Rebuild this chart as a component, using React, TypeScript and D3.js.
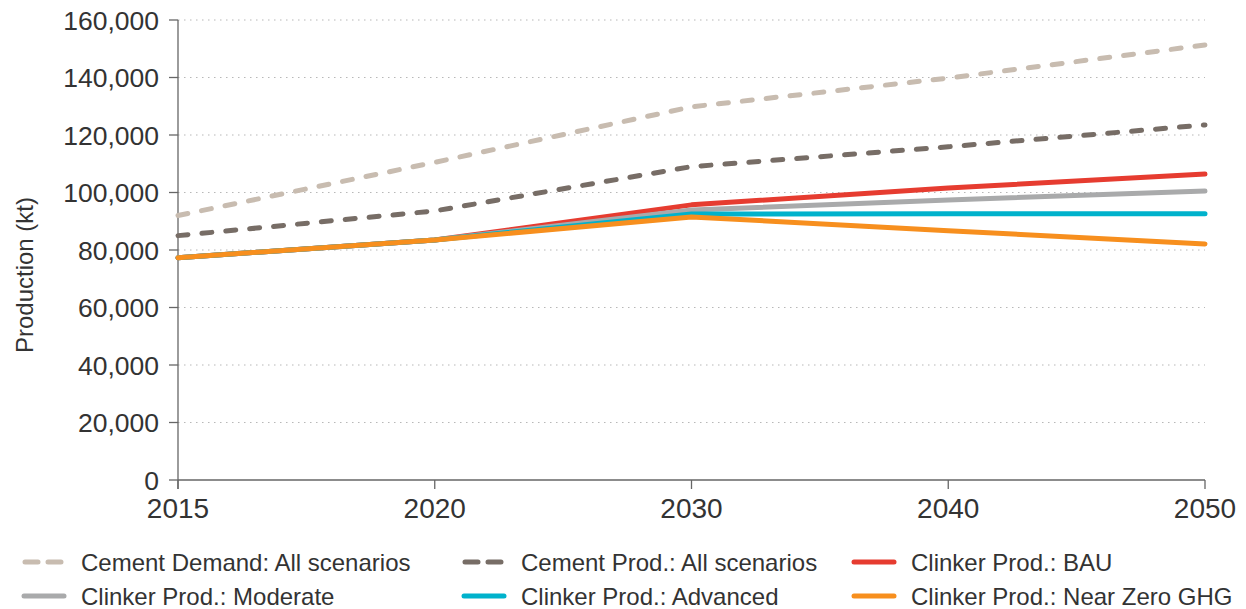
import React from "react";
import * as d3 from "d3";

const years = ["2015", "2020", "2030", "2040", "2050"];
const yTicks = [0, 20000, 40000, 60000, 80000, 100000, 120000, 140000, 160000];

const cementDemand = [92000, 110500, 129800, 139800, 151300];
const cementProd = [85000, 93600, 109000, 115900, 123500];
const clinkerBAU = [77300, 83500, 95700, 101600, 106400];
const clinkerModerate = [77300, 83500, 93900, 97400, 100500];
const clinkerAdvanced = [77300, 83500, 92500, 92600, 92600];
const clinkerNearZero = [77300, 83500, 91500, 86700, 82100];

const seriesNames = [
  "Cement Demand: All scenarios",
  "Cement Prod.: All scenarios",
  "Clinker Prod.: BAU",
  "Clinker Prod.: Moderate",
  "Clinker Prod.: Advanced",
  "Clinker Prod.: Near Zero GHG",
];
const seriesValues = [cementDemand, cementProd, clinkerBAU, clinkerModerate, clinkerAdvanced, clinkerNearZero];
const seriesColors = ["#c8bcb0", "#776d66", "#e63c30", "#a9aaab", "#00b2cc", "#f78f1e"];
const seriesDashed = [true, true, false, false, false, false];

const W = 1246;
const H = 609;
const margin = { left: 178, right: 41, top: 20, bottom: 129 };

export default function App() {
  const x = d3.scalePoint<string>().domain(years).range([margin.left, W - margin.right]);
  const y = d3.scaleLinear().domain([0, 160000]).range([H - margin.bottom, margin.top]);
  const line = d3
    .line<number>()
    .x((_, i) => x(years[i]) as number)
    .y((d) => y(d));
  const fmt = d3.format(",");
  const x0 = margin.left;
  const x1 = W - margin.right;
  const y0 = y(0);

  const legendCols = [22, 462, 852];
  const legendRows = [562, 596];

  // draw order: dashed first, then BAU, Moderate, Advanced, Near Zero
  const order = [0, 1, 2, 3, 4, 5];

  return (
    <svg width={W} height={H} style={{ position: "absolute", left: 0, top: 0, background: "#fff" }} fontFamily="'Liberation Sans', Arial, sans-serif">
      {/* grid */}
      {yTicks.filter((t) => t > 0).map((t) => (
        <line key={"g" + t} x1={x0} x2={x1} y1={y(t)} y2={y(t)} stroke="#b8b8b8" strokeWidth={1.2} strokeDasharray="1.5 4.5" />
      ))}
      {/* y axis */}
      <line x1={x0} x2={x0} y1={margin.top} y2={y0 + 9} stroke="#666" strokeWidth={1.3} />
      {yTicks.map((t) => (
        <g key={"y" + t}>
          <line x1={x0 - 9} x2={x0} y1={y(t)} y2={y(t)} stroke="#666" strokeWidth={1.3} />
          <text x={x0 - 19} y={y(t)} dy="0.36em" textAnchor="end" fontSize={26.5} fill="#333">
            {fmt(t)}
          </text>
        </g>
      ))}
      {/* x axis */}
      <line x1={x0} x2={x1} y1={y0} y2={y0} stroke="#666" strokeWidth={1.3} />
      {years.map((yr) => (
        <g key={"x" + yr}>
          <line x1={x(yr)} x2={x(yr)} y1={y0} y2={y0 + 9} stroke="#666" strokeWidth={1.3} />
          <text x={x(yr)} y={y0 + 38} textAnchor="middle" fontSize={28} fill="#333">
            {yr}
          </text>
        </g>
      ))}
      <text transform={`translate(33, ${(margin.top + y0) / 2 + 25}) rotate(-90)`} textAnchor="middle" fontSize={24} fill="#333">
        Production (kt)
      </text>
      {/* lines */}
      {order.map((i) => (
        <path
          key={"s" + i}
          d={line(seriesValues[i]) || ""}
          fill="none"
          stroke={seriesColors[i]}
          strokeWidth={5}
          strokeLinecap="round"
          strokeLinejoin="round"
          strokeDasharray={seriesDashed[i] ? "10 14" : undefined}
        />
      ))}
      {/* legend */}
      {seriesNames.map((name, i) => {
        const lx = legendCols[i % 3];
        const ly = legendRows[Math.floor(i / 3)];
        return (
          <g key={"l" + i}>
            {seriesDashed[i] ? (
              <line x1={lx + 3} x2={lx + 40} y1={ly} y2={ly} stroke={seriesColors[i]} strokeWidth={5} strokeLinecap="round" strokeDasharray="13 10" />
            ) : (
              <line x1={lx + 2} x2={lx + 42} y1={ly} y2={ly} stroke={seriesColors[i]} strokeWidth={5} strokeLinecap="round" />
            )}
            <text x={lx + 59} y={ly} dy="0.36em" fontSize={24} fill="#333">
              {name}
            </text>
          </g>
        );
      })}
    </svg>
  );
}
